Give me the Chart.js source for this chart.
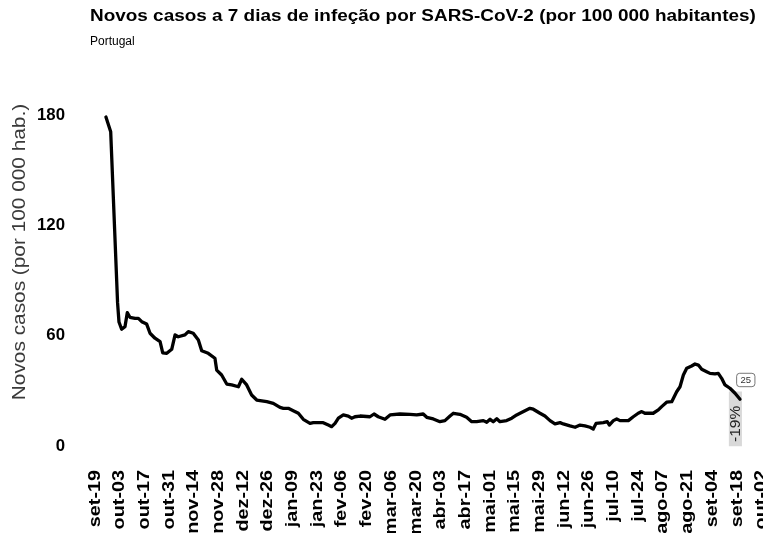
<!DOCTYPE html>
<html>
<head>
<meta charset="utf-8">
<script src="https://cdn.jsdelivr.net/npm/chart.js@4.4.1/dist/chart.umd.min.js"></script>
<style>
html,body{margin:0;padding:0;overflow:hidden;background:#fff;width:763px;height:533px}
#wrap{width:763px;height:533px;position:relative}
</style>
</head>
<body>
<div id="wrap"><canvas id="c"></canvas></div>
<script>
// Tick positions (days since set-19) and their labels
const tickDays = [0,14,28,42,56,70,84,98,112,126,140,154,168,182,196,210,224,238,252,266,280,294,308,322,336,350,364,378];
const tickLabels = ['set-19','out-03','out-17','out-31','nov-14','nov-28','dez-12','dez-26','jan-09','jan-23','fev-06','fev-20','mar-06','mar-20','abr-03','abr-17','mai-01','mai-15','mai-29','jun-12','jun-26','jul-10','jul-24','ago-07','ago-21','set-04','set-18','out-02'];
const yTicks = [0,60,120,180];

// Series: day offset from set-19 and 7-day incidence per 100 000
const days = [6.2,8.9,12.8,13.6,15.1,17.0,18.3,19.8,22.7,24.6,26.5,29.3,31.2,34.0,36.9,38.4,40.7,43.5,45.4,47.2,51.0,52.9,55.7,58.6,60.5,64.2,68.0,69.0,71.8,74.7,77.5,81.3,83.2,86.0,88.8,91.7,97.4,101.1,104.9,106.8,109.6,112.4,115.3,118.1,121.9,123.8,129.4,132.3,134.2,136.1,138.0,140.8,143.6,145.5,147.4,150.3,155.9,158.2,160.6,164.4,167.3,172.9,178.6,182.4,186.1,188.1,191.8,195.6,198.4,201.3,203.2,206.9,210.7,213.6,216.4,220.2,222.1,224.0,225.8,227.8,229.6,233.4,236.3,239.1,241.0,243.8,246.6,248.5,252.3,255.1,258.0,260.8,263.7,265.5,269.3,272.2,275.0,277.8,280.7,282.5,284.1,288.2,290.5,291.6,293.9,295.8,297.7,302.4,305.2,308.0,310.0,311.8,316.5,319.4,321.3,324.1,327.0,329.8,331.7,333.6,335.5,338.3,340.2,342.1,344.0,346.8,348.7,351.5,353.4,355.3,357.2,360.0,362.9,365.7];
const cases = [178.9,170.9,77.8,67.4,63.5,64.9,72.5,70.0,69.4,69.4,67.6,66.3,61.3,58.6,56.7,50.7,50.4,52.6,60.4,59.4,60.4,62.2,61.3,57.6,51.8,50.4,47.7,41.3,38.6,33.7,33.2,32.2,36.3,33.2,27.7,25.0,24.1,23.2,21.0,20.5,20.5,19.2,17.8,14.5,12.3,12.7,12.7,11.4,10.5,12.3,15.1,16.9,16.3,15.1,15.9,16.3,15.9,17.4,15.9,14.5,16.9,17.4,17.2,16.9,17.4,15.6,14.7,13.2,13.8,16.3,17.8,17.2,15.6,13.2,13.2,13.8,12.9,14.5,13.2,14.8,13.2,13.8,15.1,16.9,17.8,19.2,20.5,20.0,17.8,16.3,13.8,12.0,12.7,12.0,10.9,10.2,11.4,10.9,10.2,9.2,12.3,12.7,13.2,11.4,13.8,14.7,13.8,13.8,15.9,17.8,18.7,17.8,17.8,19.6,21.4,23.8,24.1,29.5,32.2,38.6,42.3,43.5,44.6,44.0,41.7,40.4,39.5,39.2,39.5,36.8,33.2,31.4,28.7,25.4];

// Weekly change marker
const changeDays = [363.1];
const changeValues = [29.5];
const changeLabel = '-19%';
const lastValueLabel = '25';

const FONT = '"Liberation Sans", Arial, Helvetica, sans-serif';
Chart.defaults.font.family = FONT;

// the reference typography is set wide along the writing direction: stretch glyphs about their anchor
function withStretch(fn, sx) {
  return function (...args) {
    const ctx = this.ctx;
    const orig = CanvasRenderingContext2D.prototype.fillText;
    ctx.fillText = function (text, x, y) {
      this.save();
      this.translate(x, y);
      this.scale(sx, 1);
      orig.call(this, text, 0, 0);
      this.restore();
    };
    try { return fn.apply(this, args); }
    finally { delete ctx.fillText; }
  };
}
const stretch = {
  id: 'stretch',
  beforeDraw(chart) {
    const x = chart.scales.x, y = chart.scales.y, t = chart.titleBlock;
    if (x && !x._st) { x.drawLabels = withStretch(Object.getPrototypeOf(x).drawLabels, 1.2); x._st = true; }
    if (y && !y._st) { y.drawTitle = withStretch(Object.getPrototypeOf(y).drawTitle, 1.19); y._st = true; }
    if (t && !t._st) { t.draw = withStretch(Object.getPrototypeOf(t).draw, 1.183); t._st = true; }
  }
};

const annotations = {
  id: 'annotations',
  afterDatasetsDraw(chart) {
    const ctx = chart.ctx;
    const bar = chart.getDatasetMeta(1).data[0];
    ctx.save();
    ctx.translate(bar.x, bar.base - 4);
    ctx.rotate(-Math.PI / 2);
    ctx.font = '15.5px ' + FONT;
    ctx.fillStyle = '#222';
    ctx.textAlign = 'left';
    ctx.textBaseline = 'middle';
    ctx.fillText(changeLabel, 0, 0.5);
    ctx.restore();

    const meta = chart.getDatasetMeta(0);
    const p = meta.data[meta.data.length - 1];
    const cx = p.x + 5.8, cy = p.y - 19.3, w = 18.3, h = 13.4;
    ctx.save();
    ctx.beginPath();
    ctx.roundRect(cx - w / 2, cy - h / 2, w, h, 3);
    ctx.fillStyle = '#fff';
    ctx.fill();
    ctx.lineWidth = 0.8;
    ctx.strokeStyle = '#555';
    ctx.stroke();
    ctx.font = '9.5px ' + FONT;
    ctx.fillStyle = '#333';
    ctx.textAlign = 'center';
    ctx.textBaseline = 'middle';
    ctx.fillText(lastValueLabel, cx, cy + 0.5);
    ctx.restore();
  }
};

new Chart(document.getElementById('c'), {
  type: 'line',
  data: {
    datasets: [
      {
        type: 'line',
        data: days.map((d, i) => ({x: d, y: cases[i]})),
        borderColor: '#000',
        borderWidth: 3.3,
        pointRadius: 0,
        tension: 0,
        borderJoinStyle: 'round',
        borderCapStyle: 'round',
        order: 0
      },
      {
        type: 'bar',
        data: changeDays.map((d, i) => ({x: d, y: changeValues[i]})),
        backgroundColor: '#d9d9d9',
        barThickness: 12.4,
        order: 1
      }
    ]
  },
  options: {
    responsive: true,
    maintainAspectRatio: false,
    animation: false,
    layout: {padding: 0},
    plugins: {
      legend: {display: false},
      tooltip: {enabled: false},
      title: {
        display: true,
        text: 'Novos casos a 7 dias de infeção por SARS-CoV-2 (por 100 000 habitantes)',
        align: 'start', fullSize: false, color: '#000',
        font: {size: 16, weight: 'bold'},
        padding: {top: 6.9, bottom: 0}
      },
      subtitle: {
        display: true,
        text: 'Portugal',
        align: 'start', fullSize: false, color: '#000',
        font: {size: 12, weight: 'normal'},
        padding: {top: 8.7, bottom: 0}
      }
    },
    scales: {
      x: {
        type: 'linear',
        min: -2.835, max: 378.75,
        offset: false,
        grid: {display: false, drawTicks: false, offset: false},
        border: {display: false},
        afterBuildTicks: s => { s.ticks = tickDays.map(v => ({value: v})); },
        afterFit: s => { s.height = 78.2; s.paddingLeft = 0; s.paddingRight = 0; },
        ticks: {
          autoSkip: false, maxRotation: 90, minRotation: 90, padding: 15.2,
          color: '#000', font: {size: 16.5, weight: 'bold'},
          callback: (v, i) => tickLabels[i]
        }
      },
      y: {
        min: -4.79, max: 215.78,
        grid: {display: false, drawTicks: false},
        border: {display: false},
        afterBuildTicks: s => { s.ticks = yTicks.map(v => ({value: v})); },
        afterFit: s => { s.width = 90; s.paddingTop = 0; s.paddingBottom = 0; },
        ticks: {padding: 25, color: '#000', font: {size: 16.8, weight: 'bold'}},
        title: {
          display: true,
          text: 'Novos casos (por 100 000 hab.)',
          color: '#3a3a3a',
          font: {size: 17.5, weight: 'normal'},
          padding: {top: 9.5, bottom: 0}
        }
      }
    }
  },
  plugins: [stretch, annotations]
});
</script>
</body>
</html>
